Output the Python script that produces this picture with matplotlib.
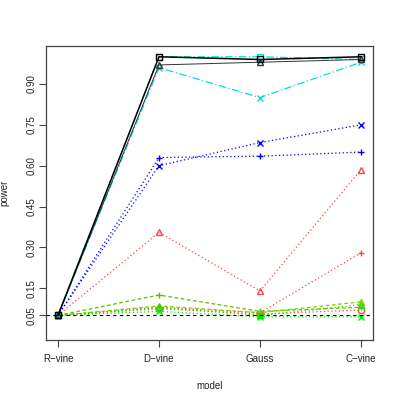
import matplotlib
matplotlib.use("Agg")
import matplotlib.pyplot as plt

models = ["R\u2212vine", "D\u2212vine", "Gauss", "C\u2212vine"]
yticks = [0.05, 0.15, 0.30, 0.45, 0.60, 0.75, 0.90]
ytick_labels = ["0.05", "0.15", "0.30", "0.45", "0.60", "0.75", "0.90"]

s_black_sq = [0.05, 1.00, 0.99, 1.00]
s_black_tri = [0.05, 0.97, 0.98, 0.99]
s_cyan_x = [0.05, 0.96, 0.85, 0.98]
s_cyan_sq = [0.05, 1.00, 1.00, 0.99]
s_blue_x = [0.05, 0.60, 0.685, 0.75]
s_blue_plus = [0.05, 0.63, 0.635, 0.65]
s_red_tri = [0.05, 0.355, 0.14, 0.585]
s_red_plus = [0.05, 0.08, 0.06, 0.28]
s_red_circ = [0.05, 0.075, 0.055, 0.07]
s_yg_plus = [0.05, 0.125, 0.065, 0.08]
s_yg_tri = [0.05, 0.085, 0.06, 0.10]
s_g_tri = [0.05, 0.08, 0.05, 0.09]
s_g_x = [0.05, 0.065, 0.045, 0.045]

series = [
    (s_red_circ, "#FF4444", (0, (1, 2)), "o", 0.9),
    (s_red_plus, "#FF4444", (0, (1, 2)), "+", 0.9),
    (s_red_tri, "#FF4444", (0, (1, 2)), "^", 0.9),
    (s_yg_plus, "#66BB00", (0, (3, 2)), "+", 0.9),
    (s_yg_tri, "#88CC00", (0, (3, 2)), "^", 0.9),
    (s_g_tri, "#22DD00", (0, (1, 2)), "^", 0.9),
    (s_g_x, "#00EE00", (0, (1, 2)), "x", 0.9),
    (s_blue_x, "#0000FF", (0, (1, 2)), "x", 0.9),
    (s_blue_plus, "#0000FF", (0, (1, 2)), "+", 0.9),
    (s_cyan_x, "#00DDDD", (0, (6, 2, 1, 2)), "x", 0.9),
    (s_cyan_sq, "#00DDDD", (0, (6, 2, 1, 2)), "s", 0.9),
    (s_black_tri, "#333333", "-", "^", 0.7),
    (s_black_sq, "#000000", "-", "s", 1.1),
]

plt.rcParams['font.family'] = ['Liberation Sans', 'DejaVu Sans']
fig = plt.figure(figsize=(3.99, 3.99), dpi=100)
ax = fig.add_axes([0.115, 0.148, 0.82, 0.737])
x = list(range(1, len(models) + 1))
for vals, col, ls, m, lw in series:
    ax.plot(x, vals, color=col, linestyle=ls, linewidth=lw, marker=m,
            markersize=4.5, markerfacecolor="none", markeredgecolor=col,
            markeredgewidth=1.0)
ax.axhline(0.05, color="black", linestyle=(0, (3, 3)), linewidth=0.8)

ax.set_xlim(0.88, 4.12)
ax.set_ylim(-0.04, 1.04)
ax.set_xticks(x)
ax.set_xticklabels(models, fontsize=7, color="#222222")
ax.set_yticks(yticks)
ax.set_yticklabels(ytick_labels, fontsize=7, rotation=90, va="center",
                   color="#222222")
ax.tick_params(axis="x", direction="out", length=5, width=0.8,
               color="#444444", pad=5)
ax.tick_params(axis="y", direction="out", length=5, width=0.8,
               color="#444444", pad=1.5)
for sp in ax.spines.values():
    sp.set_color("#444444")
    sp.set_linewidth(0.9)
ax.set_xlabel("model", fontsize=7, color="#222222")
ax.set_ylabel("power", fontsize=7, color="#222222")
ax.xaxis.set_label_coords(0.5, -0.14)
ax.yaxis.set_label_coords(-0.11, 0.5)
fig.savefig("out.png", dpi=100)
